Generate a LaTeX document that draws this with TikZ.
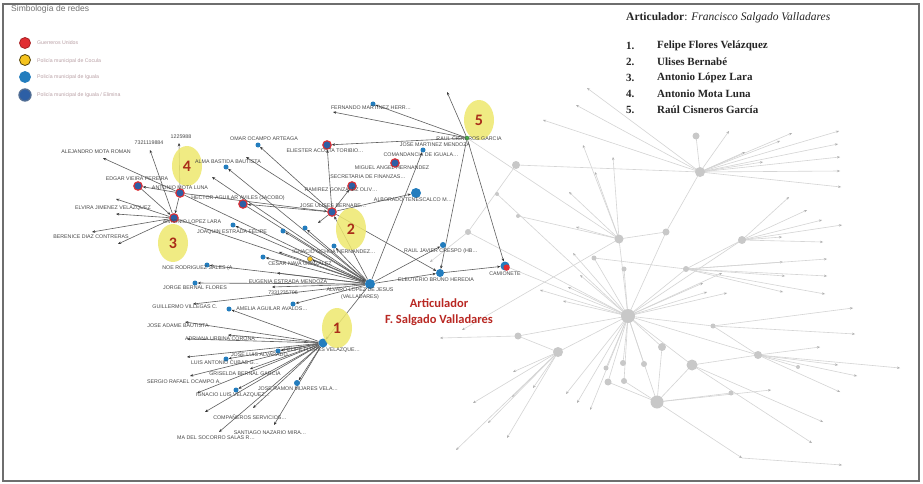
\documentclass[tikz,border=0pt]{standalone}
\usepackage{fontspec}
\setmainfont{Liberation Serif}
\setsansfont{Liberation Sans}
\newfontfamily\carlito{Carlito}
\usetikzlibrary{arrows.meta,shapes.geometric}
\definecolor{nblue}{RGB}{35,125,190}
\definecolor{ndblue}{RGB}{45,95,165}
\definecolor{nred}{RGB}{225,45,50}
\definecolor{nyel}{RGB}{245,195,30}
\definecolor{hlyel}{RGB}{238,232,110}
\definecolor{numred}{RGB}{170,45,25}
\definecolor{artred}{RGB}{185,40,35}
\definecolor{gnode}{RGB}{200,200,200}
\definecolor{gline}{RGB}{212,212,212}
\definecolor{gtip}{RGB}{175,175,175}
\definecolor{dline}{RGB}{95,95,95}
\definecolor{framec}{RGB}{110,110,110}
\definecolor{legtxt}{RGB}{185,160,165}
\pgfdeclarelayer{bgl}
\pgfdeclarelayer{edl}
\pgfsetlayers{bgl,edl,main}
\tikzset{
 gl/.style={draw=gline, line width=0.6pt},
 gla/.style={gl, -{Stealth[length=3pt,width=2.4pt,color=gtip]}},
 de/.style={draw=dline, line width=0.6pt, -{Stealth[length=3.2pt,width=2.6pt,color=black!80]}},
 bn/.style={circle, fill=nblue, inner sep=0pt, minimum size=#1},
 rn/.style={circle, fill=ndblue, draw=nred, line width=1.1pt, inner sep=0pt, minimum size=8.5pt},
 lb/.style={font=\sffamily\fontsize{5.3}{5.3}\selectfont, text=black!72, inner sep=0pt},
 hl/.style={ellipse, fill=hlyel, fill opacity=0.85, text opacity=1, inner sep=0pt, minimum width=30pt, minimum height=40pt, font=\carlito\bfseries\fontsize{16}{16}\selectfont, text=numred},
 legc/.style={circle, inner sep=0pt, minimum size=11pt, line width=0.8pt},
 legt/.style={font=\sffamily\fontsize{5.2}{5.2}\selectfont, text=legtxt, anchor=west, inner sep=0pt},
 lst/.style={font=\bfseries\fontsize{11}{11}\selectfont, text=black!85, anchor=west, inner sep=0pt},
}
\begin{document}
\begin{tikzpicture}[x=1pt,y=-1pt]
\useasboundingbox (0,0) rectangle (923,484);
\begin{pgfonlayer}{bgl}
\fill[white] (0,0) rectangle (923,484);
\end{pgfonlayer}

% ---------- grey network ----------
\foreach \n/\x/\y/\s in {g0/516/165/8, g1/700/172/10, g2/696/136/7, g3/619/239/9, g4/666/232/7, g5/742/240/8, g6/686/269/6, g7/594/258/5, g8/624/269/5, g9/628/316/14, g10/518/336/7, g11/558/352/10, g12/662/347/8, g13/692/365/11, g14/657/402/13, g15/758/355/8, g16/713/326/5, g17/623/363/6, g18/644/364/6, g19/608/382/7, g20/624/381/6, g21/606/368/5, g22/731/393/5, g23/798/367/4, g24/468/232/6, g25/497/194/4, g26/518/216/4}
  {\coordinate (\n) at (\x,\y);}

% dark nodes
\node[bn=10pt] (H) at (370,284) {};
\node[bn=9pt] (N1) at (323,343) {};
\node[rn] (N2) at (332,212) {};
\node[rn] (N3) at (174,218) {};
\node[rn] (N4) at (180,193) {};
\node[circle, fill=green!45!gray, inner sep=0pt, minimum size=4.5pt] (N5) at (467,138) {};
\node[rn] (edg) at (138,186) {};
\node[rn] (hec) at (243,204) {};
\node[rn] (eli) at (327,145) {};
\node[rn] (com) at (395,163) {};
\node[rn] (ram) at (352,186) {};
\node[bn=10pt] (alb) at (416,193) {};
\node[bn=5pt] (jmm) at (423,150) {};
\node[bn=5pt] (fer) at (373,104) {};
\node[bn=6pt] (rjc) at (443,245) {};
\node[bn=8pt] (ele) at (440,273) {};
\node[bn=9pt] (cam) at (505,266) {};
\fill[nred] ([xshift=1.6pt,yshift=-1.6pt]cam.center) circle (3.2pt);
\node[bn=5pt] (ign) at (334,246) {};
\node[circle, fill=nyel, draw=black!60, line width=0.4pt, inner sep=0pt, minimum size=5pt] (ces) at (310,259) {};
\node[bn=5pt] (ame) at (293,304) {};
\node[bn=5pt] (noe) at (207,265) {};
\node[bn=5pt] (jor) at (195,283) {};
\node[bn=5pt] (gui) at (229,309) {};
\node[bn=5pt] (omr) at (258,145) {};
\node[bn=5pt] (alm) at (226,167) {};
\node[bn=5pt] (joa) at (233,225) {};
\node[bn=5pt] (b1) at (283,231) {};
\node[bn=5pt] (b2) at (305,228) {};
\node[bn=5pt] (b3) at (263,257) {};
\node[bn=5pt] (lui) at (226,359) {};
\node[bn=5pt] (jlu) at (278,351) {};
\node[bn=5pt] (ign2) at (236,390) {};
\node[bn=6pt] (jra) at (297,383) {};

% leaf ends
\foreach \n/\x/\y in {ale/103/158, t73/150/150, t12/179/143, elv/116/199, d1/116/214, ber/92/232, d2/118/244, a1/246/157, a2/212/177, d3/318/223, d4/279/252, eug/277/273, t7/272/287, gue/193/304, jad/185/322, adr/228/335, adr2/187/339, d5/187/357, gri/250/369, ser/190/376, ilu/197/393, co1/205/412, co2/253/408, san/274/425, soc/219/432, fd/333/112, top/447/92}
  {\coordinate (\n) at (\x,\y);}

\begin{pgfonlayer}{bgl}
\foreach \h/\x/\y in {g1/839/131, g1/838/144, g1/840/157, g1/840/171, g1/841/187, g1/792/133, g1/780/141, g1/763/162, g1/745/152, g1/729/131, g1/587/88, g1/576/105, g1/543/120,
 g3/583/145, g3/613/157, g3/569/192, g3/576/227, g3/595/172,
 g5/789/197, g5/807/210, g5/822/220, g5/842/225, g5/782/237, g5/823/242,
 g6/783/262, g6/827/259, g6/785/276, g6/827/276, g6/783/292, g6/825/294,
 g9/563/301, g9/568/287, g9/580/275, g9/573/253, g9/707/292, g9/727/293, g9/703/283, g9/722/273, g9/566/394, g9/577/403, g9/590/410, g9/540/290,
 g16/853/308, g16/855/334,
 g15/820/347, g15/838/365, g15/857/376, g15/900/368, g15/840/392,
 g13/823/422, g13/812/443,
 g14/742/458, g14/771/390,
 g11/513/372, g11/533/388, g11/512/397, g11/473/403, g11/488/423, g11/507/438, g11/456/450,
 g10/440/338, g3/462/330, g24/430/262}
 {\coordinate (gl-\x-\y) at (\x,\y); \draw[gla] (\h) -- (gl-\x-\y);}
\coordinate (gb) at (842,465);
\draw[gla] (gl-742-458) -- (gb);
\foreach \a/\b in {g0/g1, g1/g2, g1/g4, g3/g4, g3/g9, g4/g9, g5/g9, g6/g9, g7/g6, g8/g9, g7/g9, g10/g9, g11/g9, g12/g9, g13/g9, g14/g9, g15/g9, g16/g9, g17/g9, g18/g9, g19/g9, g20/g9, g21/g9, g14/g19, g14/g20, g14/g13, g14/g22, g13/g15, g15/g23, g16/g15, g10/g11, g24/g9, g25/g9, g26/g3, g0/g24, N5/g3, cam/g9, g5/g6, g12/g14}
 {\draw[gl] (\a) -- (\b);}
\foreach \n/\s in {g0/8, g1/10, g2/7, g3/9, g4/7, g5/8, g6/6, g7/5, g8/5, g9/14, g10/7, g11/10, g12/8, g13/11, g14/13, g15/8, g16/5, g17/6, g18/6, g19/7, g20/6, g21/5, g22/5, g23/4, g24/6, g25/4, g26/4}
 {\fill[gnode] (\n) circle (\s pt/2);}
\end{pgfonlayer}

\begin{pgfonlayer}{edl}
\foreach \a/\b in {N4/ale, N4/t12, N4/edg, N4/N3, N4/N2, N4/H, N3/t73, N3/elv, N3/d1, N3/ber, N3/d2, edg/N3, N3/H,
 N2/omr, N2/a1, N2/hec, N2/eli, N2/ram, N2/alb, N2/d3, N2/ele, H/N2, H/alm, H/a2, hec/H,
 N5/eli, N5/fer, N5/fd, N5/top, N5/ele, N5/cam, ele/cam,
 H/N1, H/noe, H/jor, H/gue, H/eug, H/ces, H/ign, H/b1, H/b2, H/b3, H/joa, H/ame, H/d4, H/t7, H/ele, H/rjc, H/jmm,
 N1/gui, N1/jad, N1/adr, N1/adr2, N1/d5, N1/lui, N1/jlu, N1/gri, N1/ser, N1/ilu, N1/ign2, N1/jra, N1/co1, N1/co2, N1/san, N1/soc}
 {\draw[de] (\a) -- (\b);}
\end{pgfonlayer}

% highlight ellipses
\node[hl] (e1) at (337,328) {1};
\node[hl, minimum height=42pt] (e2) at (351,229) {2};
\node[hl, minimum height=38pt] (e3) at (173,243) {3};
\node[hl] (e4) at (187,166) {4};
\node[hl] (e5) at (479,120) {5};

% labels
\foreach \n/\x/\y/\t in {ale/96/152/ALEJANDRO MOTA ROMAN, t73/149/143/7321119884, t12/181/137/1225988, edg/137/179/EDGAR VIEIRA PEREIRA, n4/180/188/ANTONIO MOTA LUNA, elv/113/208/ELVIRA JIMENEZ VELAZQUEZ, n3/192/222/ANTONIO LOPEZ LARA, ber/91/237/BERENICE DIAZ CONTRERAS, omr/264/139/OMAR OCAMPO ARTEAGA, alm/228/162/ALMA BASTIDA BAUTISTA, hec/238/198/HECTOR AGUILAR AVILES (JACOBO), joa/232/232/JOAQUIN ESTRADA FELIPE, fer/371/108/FERNANDO MARTINEZ HERR\ldots, eli/325/151/ELIESTER ACOSTA TORIBIO\ldots, n5/469/139/RAUL CISNEROS GARCIA, jmm/435/145/JOSE MARTINEZ MENDOZA, com/421/155/COMANDANCIA DE IGUALA\ldots, mig/392/168/MIGUEL ANGEL HERNANDEZ, sec/368/177/SECRETARIA DE FINANZAS\ldots, ram/341/190/RAMIREZ GONZALEZ OLIV\ldots, alb/413/200/ALBORADO TENESCALCO M\ldots, n2/333/206/JOSE ULISES BERNABE\ldots, ign/334/252/IGNACIO OCHOA HERNANDEZ\ldots, rjc/441/251/RAUL JAVIER CRESPO (HB\ldots, ces/300/264/CESAR NAVA GONZALEZ, noe/200/268/NOE RODRIGUEZ SALES (A\ldots, ele/436/280/ELEUTERIO BRUNO HEREDIA, cam/505/274/CAMIONETE, eug/288/282/EUGENIA ESTRADA MENDOZA, jor/195/288/JORGE BERNAL FLORES, h1/360/290/ALVARO LOPEZ DE JESUS, h2/360/297/(VALLADARES), tel/283/293/7331235706, gui/185/307/GUILLERMO VILLEGAS C., ame/272/309/AMELIA AGUILAR AVALOS\ldots, jad/178/326/JOSE ADAME BAUTISTA, adr/220/339/ADRIANA URBINA CORONA, n1/322/350/FELIPE FLORES VELAZQUE\ldots, jlu/262/355/JOSE LUIS ALVARADO\ldots, lui/225/363/LUIS ANTONIO CUBAS G\ldots, gri/245/374/GRISELDA BERNAL GARCIA, ser/184/382/SERGIO RAFAEL OCAMPO A., jra/298/389/JOSE RAMON MIJARES VELA\ldots, ilu/233/395/IGNACIO LUIS VELAZQUEZ\ldots, cs/250/417/COMPAÑEROS SERVICIOS\ldots, san/270/433/SANTIAGO NAZARIO MIRA\ldots, soc/216/438/MA DEL SOCORRO SALAS R\ldots}
 {\node[lb] (l-\n) at (\x,\y) {\t};}

% articulador text
\node[font=\carlito\bfseries\fontsize{12.5}{13}\selectfont, text=artred] (art1) at (439,303) {Articulador};
\node[font=\carlito\bfseries\fontsize{12.5}{13}\selectfont, text=artred] (art2) at (439,320) {F. Salgado Valladares};

% top-right list
\node[lst, font=\fontsize{11.5}{12}\selectfont] (hdr) at (626,18) {\textbf{Articulador}: \textit{Francisco Salgado Valladares}};
\foreach \k/\t [count=\i from 0] in {1/Felipe Flores Velázquez, 2/Ulises Bernabé, 3/Antonio López Lara, 4/Antonio Mota Luna, 5/Raúl Cisneros García}
 {\node[lst] (num\k) at (626,46+16*\i) {\k.};
  \node[lst] (nm\k) at (657,46+16*\i) {\t};}

% legend
\node[anchor=west, font=\sffamily\fontsize{8.5}{9}\selectfont, text=black!55, inner sep=0pt] (lgt) at (11,9) {Simbología de redes};
\node[legc, fill=nred, draw=nred!75!black] (lg1) at (25,43) {};
\node[legc, fill=nyel, draw=black!65!nyel] (lg2) at (25,60) {};
\node[legc, fill=nblue, draw=nblue] (lg3) at (25,77) {};
\node[legc, fill=ndblue, draw=ndblue!55!gray, line width=1.3pt, minimum size=12pt] (lg4) at (25,95) {};
\node[legt] (lt1) at (37,43) {Guerreros Unidos};
\node[legt] (lt2) at (37,61) {Policía municipal de Cocula};
\node[legt] (lt3) at (37,77) {Policía municipal de Iguala};
\node[legt] (lt4) at (37,95) {Policía municipal de Iguala / Elimina};

\draw[framec, line width=1.6pt] (3,4) rectangle (919,481);
\end{tikzpicture}
\end{document}
